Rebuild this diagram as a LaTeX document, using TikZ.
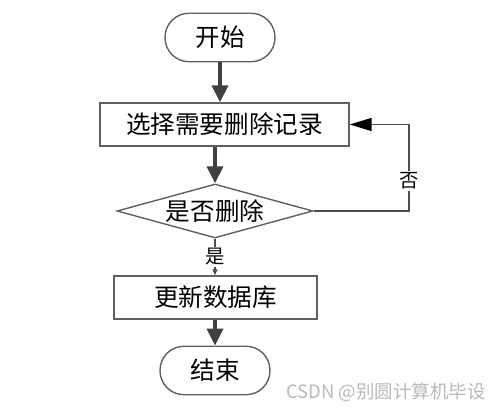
\documentclass[tikz,border=0pt]{standalone}
\usepackage{fontspec}
\setmainfont{Noto Sans CJK SC}
\usepackage{tikz}
\usetikzlibrary{positioning, shapes.geometric, arrows.meta}

\begin{document}
\begin{tikzpicture}[
            x=0.02cm, y=-0.02cm,
            box/.style={draw=gray!75!black, line width=0.8pt, minimum height=0.86cm, font=\fontsize{14}{16}\selectfont},
            terminal/.style={box, rounded corners=0.48cm, minimum width=2.2cm, minimum height=0.97cm},
            decision/.style={box, diamond, aspect=3.6, inner sep=0pt, minimum width=3.92cm, minimum height=1.08cm},
            flow/.style={line width=2.2pt, draw=black!75, -{Triangle[length=0.34cm, width=0.32cm]}},
            back/.style={line width=0.9pt, draw=black!70, -{Triangle[length=0.44cm, width=0.26cm, black]}},
            yes/.style={line width=0.9pt, draw=black!70, -{Triangle[length=0.12cm, width=0.1cm]}},
            tag/.style={fill=white, inner sep=1pt, font=\fontsize{11}{13}\selectfont}
        ]

        \useasboundingbox (0,0) rectangle (500,411);

        % Start node
        \node[terminal] (start) at (220,37.5) {开始};
        % select record
        \node[box, minimum width=4.98cm] (select) at (224.5,124.5) {选择需要删除记录};
        % decision
        \node[decision] (ask) at (215,211) {是否删除};
        % update
        \node[box, minimum width=4.06cm] (update) at (215.5,297.5) {更新数据库};
        % End node
        \node[terminal] (stop) at (215,370.5) {结束};
        \coordinate (corner) at (409,211);

        \draw[flow] (start.south) -- (start.south |- select.north);
        \draw[flow] (select.south -| ask.north) -- (ask.north);
        \draw[yes] (ask.south) -- node[tag] {是} (update.north -| ask.south);
        \draw[flow] (update.south -| stop.north) -- (stop.north);
        % no branch back to select
        \draw[back] (ask.east) -- (corner) -- node[tag, pos=0.35] {否} (corner |- select.east) -- (select.east);

        % watermark
        \node[text=gray!55, font=\fontsize{10.5}{12}\selectfont] (mark) at (386,392) {CSDN @别圆计算机毕设};

    \end{tikzpicture}
\end{document}
